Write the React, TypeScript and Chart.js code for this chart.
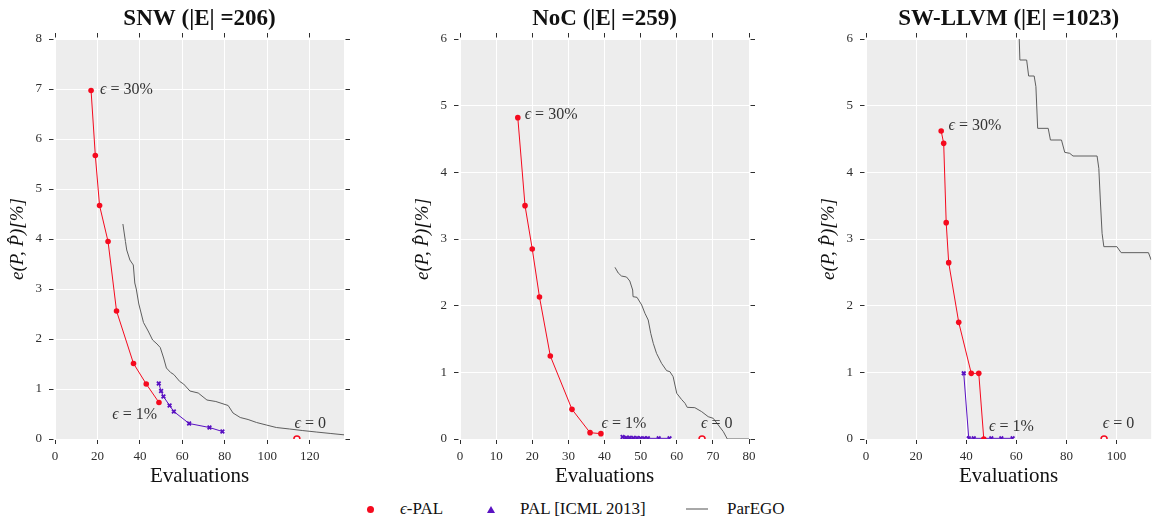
import React, { useEffect, useRef } from "react";
import { Chart, registerables } from "chart.js";

Chart.register(...registerables);

const FONT = '"Liberation Serif", "DejaVu Serif", serif';
const RED = "#f50a1e";
const PURPLE = "#5a12c2";
const GREY = "#5e5e5e";

const xLabel = "Evaluations";
const yLabel = "e(P, P\u0302)[%]";

// ---------- SNW ----------
const snwTitle = "SNW (|E| =206)";
const snwEpsPalX = [17, 19, 21, 25, 29, 37, 43, 49];
const snwEpsPalY = [6.97, 5.67, 4.67, 3.95, 2.56, 1.51, 1.1, 0.73];
const snwPalX = [48.9, 50, 51.1, 54, 56, 63.2, 72.8, 78.9];
const snwPalY = [1.11, 0.96, 0.85, 0.67, 0.55, 0.31, 0.23, 0.15];
const snwParegoX = [32, 33.2, 33.8, 35.3, 36.9, 37.6, 38.3, 39.5, 41.7, 43.9, 46.0, 48.1, 49.6, 51.2, 52.5, 54.5, 56.0, 58.8, 60.6, 63.6, 67.5, 71.6, 75.8, 81.6, 83.9, 87.3, 91.0, 95.0, 99.6, 104.3, 110.6, 116.5, 123.1, 130.0, 137];
const snwParegoY = [4.3, 3.95, 3.78, 3.58, 3.48, 3.12, 3.0, 2.7, 2.33, 2.16, 1.98, 1.9, 1.83, 1.62, 1.42, 1.33, 1.29, 1.15, 1.1, 0.96, 0.92, 0.78, 0.75, 0.67, 0.52, 0.43, 0.39, 0.33, 0.28, 0.23, 0.2, 0.17, 0.14, 0.11, 0.08];
const snwExactX = [114];
const snwExactY = [0];
const snwNoteText = ["\u03f5 = 30%", "\u03f5 = 1%", "\u03f5 = 0"];
const snwNoteX = [21.2, 27.0, 112.9];
const snwNoteY = [6.98, 0.49, 0.31];

// ---------- NoC ----------
const nocTitle = "NoC (|E| =259)";
const nocEpsPalX = [16, 18, 20, 22, 25, 31, 36, 39];
const nocEpsPalY = [4.82, 3.5, 2.85, 2.13, 1.245, 0.445, 0.095, 0.08];
const nocPalX = [45, 46, 47, 48, 49, 50, 51, 52, 55, 58];
const nocPalY = [0.03, 0.02, 0.02, 0.015, 0.015, 0.01, 0.01, 0.01, 0.01, 0.01];
const nocParegoX = [42.9, 43.8, 44.7, 46.1, 47.0, 47.8, 47.9, 49.0, 50.3, 51.2, 52.1, 52.8, 53.5, 54.4, 55.8, 57.2, 58.1, 59.0, 60.0, 61.3, 62.3, 62.9, 65.0, 66.9, 68.7, 70.1, 71.5, 72.9, 74.0, 80];
const nocParegoY = [2.575, 2.49, 2.445, 2.43, 2.37, 2.235, 2.135, 2.125, 2.01, 1.885, 1.785, 1.585, 1.435, 1.285, 1.135, 1.025, 1.01, 0.935, 0.685, 0.595, 0.535, 0.475, 0.47, 0.41, 0.335, 0.31, 0.21, 0.11, 0, 0];
const nocExactX = [67];
const nocExactY = [0];
const nocNoteText = ["\u03f5 = 30%", "\u03f5 = 1%", "\u03f5 = 0"];
const nocNoteX = [17.9, 39.2, 66.7];
const nocNoteY = [4.87, 0.235, 0.235];

// ---------- SW-LLVM ----------
const llvmTitle = "SW-LLVM (|E| =1023)";
const llvmEpsPalX = [30, 31, 32, 33, 37, 42, 45, 47];
const llvmEpsPalY = [4.62, 4.435, 3.245, 2.645, 1.75, 0.985, 0.985, 0];
const llvmPalX = [39, 41, 43, 50, 54, 58.5];
const llvmPalY = [0.985, 0.01, 0.01, 0.01, 0.01, 0.01];
const llvmParegoX = [60.9, 61.4, 64.1, 64.9, 67.1, 67.8, 68.5, 72.7, 73.6, 78.0, 79.3, 81.3, 82.6, 92.2, 92.9, 93.5, 94.2, 94.9, 100.1, 101.8, 112.7, 113.8, 114.5];
const llvmParegoY = [6.3, 5.685, 5.685, 5.445, 5.445, 5.285, 4.66, 4.66, 4.485, 4.485, 4.3, 4.285, 4.245, 4.245, 4.06, 3.585, 3.085, 2.885, 2.885, 2.795, 2.795, 2.685, 2.5];
const llvmExactX = [95];
const llvmExactY = [0];
const llvmNoteText = ["\u03f5 = 30%", "\u03f5 = 1%", "\u03f5 = 0"];
const llvmNoteX = [32.9, 49.1, 94.5];
const llvmNoteY = [4.695, 0.185, 0.235];

type PanelCfg = {
  title: string;
  xMax: number;
  xStep: number;
  yMax: number;
  epsX: number[]; epsY: number[];
  palX: number[]; palY: number[];
  parX: number[]; parY: number[];
  exX: number[]; exY: number[];
  noteText: string[]; noteX: number[]; noteY: number[];
  left: number;
  width: number;
  rightW: number;
  showRight: boolean;
};

const panels: PanelCfg[] = [
  {
    title: snwTitle, xMax: 136.2, xStep: 20, yMax: 8,
    epsX: snwEpsPalX, epsY: snwEpsPalY, palX: snwPalX, palY: snwPalY,
    parX: snwParegoX, parY: snwParegoY, exX: snwExactX, exY: snwExactY,
    noteText: snwNoteText, noteX: snwNoteX, noteY: snwNoteY,
    left: 0, width: 370, rightW: 26, showRight: true,
  },
  {
    title: nocTitle, xMax: 80, xStep: 10, yMax: 6,
    epsX: nocEpsPalX, epsY: nocEpsPalY, palX: nocPalX, palY: nocPalY,
    parX: nocParegoX, parY: nocParegoY, exX: nocExactX, exY: nocExactY,
    noteText: nocNoteText, noteX: nocNoteX, noteY: nocNoteY,
    left: 405, width: 370, rightW: 26, showRight: true,
  },
  {
    title: llvmTitle, xMax: 113.8, xStep: 20, yMax: 6,
    epsX: llvmEpsPalX, epsY: llvmEpsPalY, palX: llvmPalX, palY: llvmPalY,
    parX: llvmParegoX, parY: llvmParegoY, exX: llvmExactX, exY: llvmExactY,
    noteText: llvmNoteText, noteX: llvmNoteX, noteY: llvmNoteY,
    left: 811, width: 346, rightW: 2, showRight: false,
  },
];

const pts = (xs: number[], ys: number[]) => xs.map((x, i) => ({ x, y: ys[i] }));

const bgPlugin = {
  id: "panelBg",
  beforeDraw(chart: any) {
    const { ctx, chartArea: a } = chart;
    ctx.save();
    ctx.fillStyle = "#ededed";
    ctx.fillRect(a.left, a.top, a.right - a.left, a.bottom - a.top);
    ctx.restore();
  },
};

function notePlugin(texts: string[], xs: number[], ys: number[]) {
  return {
    id: "epsNotes",
    afterDatasetsDraw(chart: any) {
      const { ctx, scales } = chart;
      ctx.save();
      ctx.fillStyle = "#333";
      ctx.textBaseline = "middle";
      ctx.textAlign = "left";
      texts.forEach((t, i) => {
        const px = scales.x.getPixelForValue(xs[i]);
        const py = scales.y.getPixelForValue(ys[i]);
        const first = t.slice(0, 1);
        const rest = t.slice(1);
        ctx.font = `italic 16px ${FONT}`;
        ctx.fillText(first, px, py);
        const w = ctx.measureText(first).width;
        ctx.font = `16px ${FONT}`;
        ctx.fillText(rest, px + w, py);
      });
      ctx.restore();
    },
  };
}

const TICK_COLOR = "#2e2e2e";

function buildConfig(p: PanelCfg): any {
  const tickFont = { family: FONT, size: 13 };
  return {
    type: "line",
    data: {
      datasets: [
        {
          label: "\u03f5-PAL",
          data: pts(p.epsX, p.epsY),
          borderColor: RED,
          backgroundColor: RED,
          borderWidth: 1,
          pointRadius: 2.8,
          pointBorderWidth: 0,
          pointStyle: "circle",
          tension: 0,
        },
        {
          label: "PAL [ICML 2013]",
          data: pts(p.palX, p.palY),
          borderColor: PURPLE,
          backgroundColor: PURPLE,
          borderWidth: 1,
          pointRadius: 2.6,
          pointBorderWidth: 1.8,
          pointStyle: "crossRot",
          tension: 0,
        },
        {
          label: "\u03f5 = 0",
          data: pts(p.exX, p.exY),
          showLine: false,
          borderColor: RED,
          backgroundColor: "rgba(255,255,255,0.6)",
          pointRadius: 3,
          pointBorderWidth: 1.5,
          pointStyle: "circle",
        },
        {
          label: "ParEGO",
          data: pts(p.parX, p.parY),
          borderColor: GREY,
          borderWidth: 1,
          pointRadius: 0,
          tension: 0,
        },
      ],
    },
    options: {
      responsive: false,
      animation: false,
      devicePixelRatio: 1,
      events: [],
      layout: { padding: 0 },
      plugins: {
        legend: { display: false },
        tooltip: { enabled: false },
        title: { display: false },
      },
      scales: {
        x: {
          type: "linear",
          position: "bottom",
          min: 0,
          max: p.xMax,
          afterFit: (s: any) => { s.height = 51; },
          ticks: { stepSize: p.xStep, includeBounds: false, padding: 4, color: TICK_COLOR, font: tickFont, maxRotation: 0, autoSkip: false },
          grid: { color: "#ffffff", lineWidth: 1, tickColor: TICK_COLOR, tickLength: 6, tickWidth: 1, tickBorderDash: [5, 10] },
          border: { display: false },
          title: { display: true, text: xLabel, color: "#111", font: { family: FONT, size: 21 }, padding: { top: 0, bottom: 1 } },
        },
        x2: {
          type: "linear",
          position: "top",
          min: 0,
          max: p.xMax,
          afterFit: (s: any) => { s.height = 39; },
          ticks: { display: false, stepSize: p.xStep, includeBounds: false },
          grid: { drawOnChartArea: false, tickColor: TICK_COLOR, tickLength: 6, tickWidth: 1, tickBorderDash: [4.5, 10] },
          border: { display: false },
          title: { display: true, text: p.title, color: "#111", font: { family: FONT, size: 23, weight: "bold" }, padding: { top: 5, bottom: 0 } },
        },
        y: {
          type: "linear",
          position: "left",
          min: 0,
          max: p.yMax,
          afterFit: (s: any) => { s.width = 55; },
          ticks: { stepSize: 1, includeBounds: false, padding: 7, color: TICK_COLOR, font: tickFont },
          grid: { color: "#ffffff", lineWidth: 1, tickColor: TICK_COLOR, tickLength: 6, tickWidth: 1, tickBorderDash: [4.5, 10] },
          border: { display: false },
          title: { display: true, text: yLabel, color: "#111", font: { family: FONT, size: 19, style: "italic" }, padding: { top: 7, bottom: 0 } },
        },
        y2: {
          type: "linear",
          position: "right",
          min: 0,
          max: p.yMax,
          afterFit: (s: any) => { s.width = p.rightW; },
          ticks: { display: false, stepSize: 1, includeBounds: false },
          grid: { display: p.showRight, drawOnChartArea: false, tickColor: TICK_COLOR, tickLength: 6, tickWidth: 1, tickBorderDash: [0, 1.5, 4.5, 10] },
          border: { display: false },
        },
      },
    },
    plugins: [bgPlugin, notePlugin(p.noteText, p.noteX, p.noteY)],
  };
}

function Panel({ p }: { p: PanelCfg }) {
  const ref = useRef<HTMLCanvasElement | null>(null);
  useEffect(() => {
    if (!ref.current) return;
    const chart = new Chart(ref.current, buildConfig(p));
    return () => chart.destroy();
  }, [p]);
  return (
    <canvas
      ref={ref}
      width={p.width}
      height={490}
      style={{ position: "absolute", left: p.left, top: 0, width: p.width, height: 490 }}
    />
  );
}

const legendText: React.CSSProperties = {
  position: "absolute",
  top: 500,
  fontFamily: FONT,
  fontSize: 17,
  lineHeight: "17px",
  color: "#111",
  whiteSpace: "nowrap",
};

export default function App() {
  return (
    <div
      style={{
        position: "absolute",
        left: 0,
        top: 0,
        width: 1157,
        height: 516,
        background: "#ffffff",
        overflow: "hidden",
      }}
    >
      {panels.map((p, i) => (
        <Panel key={i} p={p} />
      ))}
      <div style={{ position: "absolute", left: 367, top: 506, width: 7, height: 7, borderRadius: "50%", background: RED }} />
      <div style={{ ...legendText, left: 400 }}>
        <span style={{ fontStyle: "italic" }}>{"\u03f5"}</span>-PAL
      </div>
      <svg style={{ position: "absolute", left: 487, top: 506 }} width={8} height={7}>
        <polygon points="4,0 8,7 0,7" fill={PURPLE} />
      </svg>
      <div style={{ ...legendText, left: 520 }}>PAL [ICML 2013]</div>
      <div style={{ position: "absolute", left: 686, top: 508, width: 22, height: 1.5, background: "#a8a8a8" }} />
      <div style={{ ...legendText, left: 727 }}>ParEGO</div>
    </div>
  );
}
